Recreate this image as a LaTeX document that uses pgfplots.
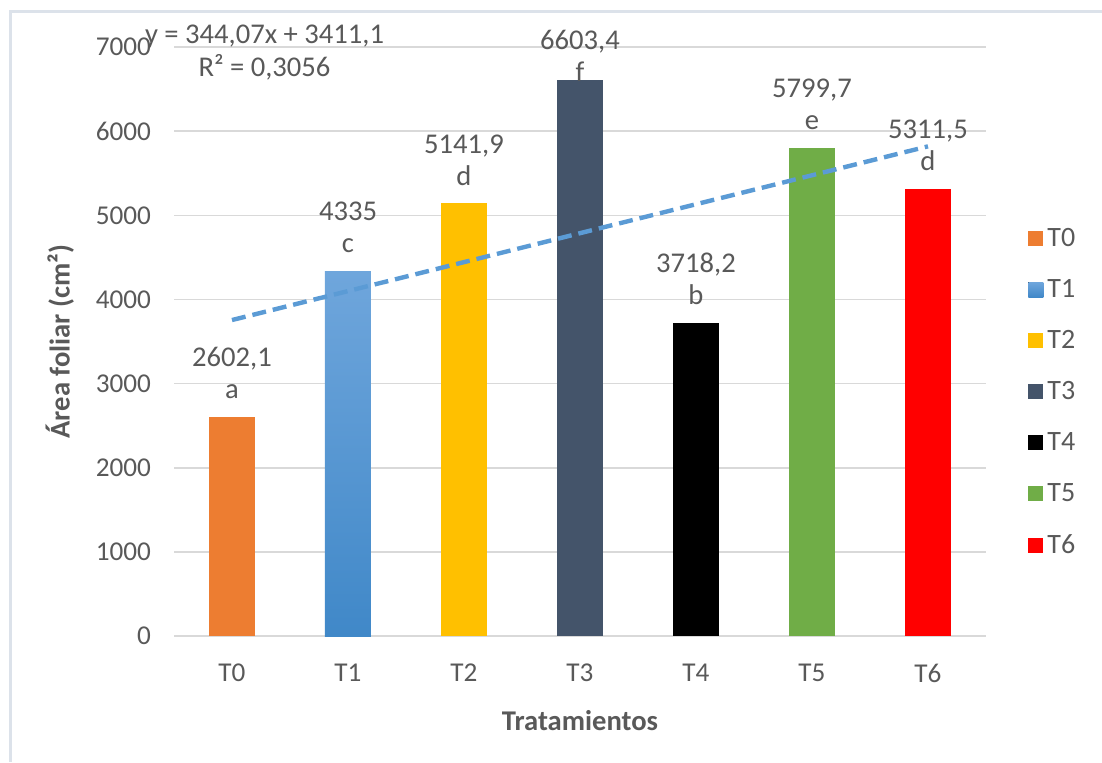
\documentclass[border=0pt]{standalone}
\usepackage{fontspec}
\setmainfont{Carlito}
\usepackage{pgfplots}
\pgfplotsset{compat=1.18}
\definecolor{txt}{HTML}{595959}
\definecolor{gridc}{HTML}{D9D9D9}
\definecolor{cT0}{HTML}{ED7D31}
\definecolor{cT1a}{HTML}{6FA6DC}
\definecolor{cT1b}{HTML}{4088C8}
\definecolor{cT2}{HTML}{FFC000}
\definecolor{cT3}{HTML}{44546A}
\definecolor{cT4}{HTML}{000000}
\definecolor{cT5}{HTML}{70AD47}
\definecolor{cT6}{HTML}{FF0000}
\definecolor{trend}{HTML}{5B9BD5}
\definecolor{framec}{HTML}{DCE2EA}
\begin{document}
\begin{tikzpicture}[font=\fontsize{14.3}{16}\selectfont]
\useasboundingbox (0,0) rectangle (551pt,381pt);
\draw[framec, line width=1.5pt] (5pt,0) -- (5pt,375pt) -- (551pt,375pt);
\begin{axis}[
  at={(87pt,63pt)}, anchor=south west,
  scale only axis, width=406pt, height=294.5pt,
  clip=false,
  ybar, bar width=23pt, bar shift=0pt,
  xmin=-0.5, xmax=6.5, ymin=0, ymax=7000,
  xtick={0,...,6}, xticklabels={T0,T1,T2,T3,T4,T5,T6},
  ytick={0,1000,...,7000},
  ymajorgrids, grid style={gridc, line width=0.8pt},
  axis line style={draw=none},
  major tick length=0pt,
  tick label style={text=txt, font=\fontsize{13.6}{15.5}\selectfont},
  /pgf/number format/assume math mode=true,
  /pgf/number format/1000 sep={},
  xticklabel style={yshift=-10.5pt},
  yticklabel style={xshift=-8pt},
  xlabel={\bfseries Tratamientos}, ylabel={\bfseries Área foliar (cm²)},
  label style={text=txt, font=\fontsize{14.3}{16}\selectfont},
  xlabel style={yshift=-7pt},
  ylabel style={yshift=4pt},
  every node near coord/.append style={text=txt, align=center, anchor=south, yshift=5.5pt, font=\fontsize{14.3}{16}\selectfont},
  legend style={draw=none, fill=none, at={(1,0.414)}, anchor=west, xshift=18pt,
    text=txt, row sep=11pt, font=\fontsize{14}{16}\selectfont,
    /tikz/every even column/.append style={column sep=2.5pt}},
  legend cell align=left,
  legend image code/.code={\fill[#1] (0pt,-3.75pt) rectangle (7.5pt,3.75pt);},
]
\draw[gridc, line width=0.8pt] (rel axis cs:0,0) -- (rel axis cs:1,0);
\addplot[fill=cT0, draw=none, nodes near coords={2602,1\\a}] coordinates {(0,2602.1)};
\addlegendentry{T0}
\addplot[top color=cT1a, bottom color=cT1b, draw=none, nodes near coords={4335\\c}] coordinates {(1,4335)};
\addlegendentry{T1}
\addplot[fill=cT2, draw=none, nodes near coords={5141,9\\d}] coordinates {(2,5141.9)};
\addlegendentry{T2}
\addplot[fill=cT3, draw=none, nodes near coords={6603,4\\f},
  every node near coord/.append style={yshift=-9.5pt}] coordinates {(3,6603.4)};
\addlegendentry{T3}
\addplot[fill=cT4, draw=none, nodes near coords={3718,2\\b}] coordinates {(4,3718.2)};
\addlegendentry{T4}
\addplot[fill=cT5, draw=none, nodes near coords={5799,7\\e}] coordinates {(5,5799.7)};
\addlegendentry{T5}
\addplot[fill=cT6, draw=none, nodes near coords={5311,5\\d}] coordinates {(6,5311.5)};
\addlegendentry{T6}
\addplot[sharp plot, forget plot, trend, line width=2.2pt, dash pattern=on 7pt off 3.5pt, mark=none] coordinates {(0,3755.17) (6,5819.59)};
\node[text=txt, align=center, font=\fontsize{14.3}{16.5}\selectfont] at (axis cs:0.28,6930) {y = 344,07x + 3411,1\\R² = 0,3056};
\end{axis}
\end{tikzpicture}
\end{document}
